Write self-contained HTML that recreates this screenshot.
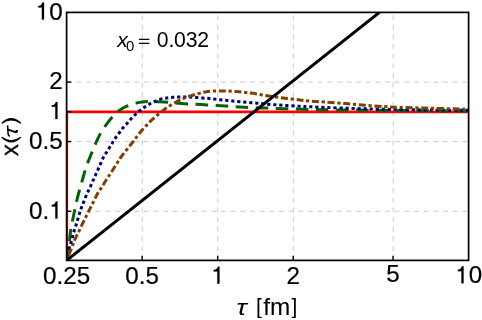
<!DOCTYPE html>
<html><head><meta charset="utf-8"><title>plot</title>
<style>
html,body{margin:0;padding:0;background:#fff;}
svg{display:block;will-change:transform;}
text{font-family:"Liberation Sans",sans-serif;fill:#000;}
.tk{font-size:23px;}
.gr{stroke:#cbcbcb;stroke-width:1;stroke-dasharray:5 4.65;fill:none;}
</style></head><body>
<svg width="482" height="320" viewBox="0 0 482 320">
<rect x="0" y="0" width="482" height="320" fill="#fff"/>
<defs><clipPath id="cp"><rect x="66.6" y="12.4" width="402.00" height="248.00"/></clipPath></defs>
<line class="gr" style="stroke-dasharray:5 4.61" x1="142.26" y1="260.4" x2="142.26" y2="12.4"/>
<line class="gr" style="stroke-dasharray:5 4.61" x1="217.79" y1="260.4" x2="217.79" y2="12.4"/>
<line class="gr" style="stroke-dasharray:5 4.61" x1="293.33" y1="260.4" x2="293.33" y2="12.4"/>
<line class="gr" style="stroke-dasharray:5 4.61" x1="393.18" y1="260.4" x2="393.18" y2="12.4"/>
<line class="gr" x1="66.6" y1="82.10" x2="468.6" y2="82.10"/>
<line class="gr" x1="66.6" y1="111.80" x2="468.6" y2="111.80"/>
<line class="gr" x1="66.6" y1="141.60" x2="468.6" y2="141.60"/>
<line class="gr" x1="66.6" y1="211.30" x2="468.6" y2="211.30"/>
<g clip-path="url(#cp)" fill="none">
<path d="M66.76,260.4 L66.76,111.88 L468.6,111.88" stroke="#f00" stroke-width="2.75" stroke-linejoin="miter"/>
<path d="M66.60,260.40C66.90,258.83 67.83,255.11 68.40,251.00C68.97,246.89 69.50,239.92 70.00,235.75C70.50,231.58 70.82,229.29 71.40,226.00C71.98,222.71 72.80,219.33 73.50,216.00C74.20,212.67 74.89,209.23 75.60,206.00C76.31,202.77 76.93,199.82 77.75,196.60C78.57,193.38 79.58,189.97 80.50,186.70C81.42,183.43 82.33,180.20 83.25,177.00C84.17,173.80 84.96,170.62 86.00,167.50C87.04,164.38 88.27,161.43 89.50,158.30C90.73,155.17 92.07,151.87 93.40,148.70C94.73,145.53 96.03,142.33 97.50,139.30C98.97,136.27 100.45,133.33 102.20,130.50C103.95,127.67 105.95,124.95 108.00,122.30C110.05,119.65 112.92,116.38 114.50,114.60C116.08,112.82 116.13,112.67 117.50,111.60C118.87,110.53 120.97,109.17 122.70,108.20C124.43,107.23 125.78,106.58 127.90,105.75C130.02,104.92 133.13,103.86 135.40,103.25C137.67,102.64 139.48,102.39 141.50,102.10C143.52,101.81 145.04,101.56 147.50,101.50C149.96,101.44 152.88,101.62 156.25,101.75C159.62,101.88 164.53,102.04 167.75,102.25C170.97,102.46 172.27,102.72 175.60,103.00C178.93,103.28 184.52,103.69 187.75,103.90C190.98,104.11 191.71,104.08 195.00,104.25C198.29,104.42 204.07,104.69 207.50,104.90C210.93,105.11 212.22,105.30 215.60,105.50C218.97,105.70 224.42,105.89 227.75,106.10C231.08,106.31 232.21,106.53 235.60,106.75C238.99,106.97 244.77,107.23 248.10,107.40C251.43,107.57 252.27,107.63 255.60,107.75C258.93,107.87 264.77,107.97 268.10,108.10C271.43,108.22 272.27,108.39 275.60,108.50C278.93,108.61 284.70,108.67 288.10,108.75C291.50,108.83 292.60,108.89 296.00,109.00C299.40,109.11 304.50,109.28 308.50,109.40C312.50,109.52 313.92,109.60 320.00,109.70C326.08,109.80 336.67,109.92 345.00,110.00C353.33,110.08 360.83,110.10 370.00,110.20C379.17,110.30 390.00,110.50 400.00,110.60C410.00,110.70 418.60,110.73 430.00,110.80C441.40,110.87 462.00,110.97 468.40,111.00" stroke="#006400" stroke-width="3" stroke-dasharray="12.45 7.633" stroke-dashoffset="0.78"/>
<path d="M66.60,260.40C67.00,258.48 68.28,251.87 69.00,248.90C69.72,245.93 70.32,244.62 70.90,242.60C71.48,240.57 71.94,238.72 72.50,236.75C73.06,234.78 73.65,232.72 74.25,230.75C74.85,228.78 75.52,226.79 76.10,224.90C76.68,223.01 77.17,221.37 77.75,219.40C78.33,217.43 78.97,215.08 79.60,213.10C80.22,211.12 80.81,209.37 81.50,207.50C82.19,205.63 82.97,203.90 83.75,201.90C84.53,199.90 85.42,197.36 86.20,195.50C86.98,193.64 87.68,192.27 88.40,190.75C89.12,189.23 89.73,188.07 90.50,186.40C91.27,184.73 92.21,182.53 93.00,180.75C93.79,178.97 94.46,177.53 95.25,175.75C96.04,173.97 96.88,172.07 97.75,170.10C98.62,168.12 99.54,166.07 100.50,163.90C101.46,161.73 102.54,158.96 103.50,157.10C104.46,155.24 105.27,154.31 106.25,152.75C107.23,151.19 108.36,149.42 109.40,147.75C110.44,146.08 111.47,144.42 112.50,142.75C113.53,141.08 114.45,139.42 115.60,137.75C116.75,136.08 118.15,134.42 119.40,132.75C120.65,131.08 121.79,129.33 123.10,127.75C124.41,126.17 125.93,124.72 127.25,123.25C128.57,121.78 129.64,120.36 131.00,118.90C132.36,117.44 133.94,115.86 135.40,114.50C136.86,113.14 138.19,112.00 139.75,110.75C141.31,109.50 143.08,108.14 144.75,107.00C146.42,105.86 148.08,104.82 149.75,103.90C151.42,102.98 152.83,102.33 154.75,101.50C156.67,100.67 159.22,99.48 161.25,98.90C163.28,98.32 164.93,98.28 166.90,98.00C168.88,97.72 170.92,97.42 173.10,97.25C175.28,97.08 177.70,97.04 180.00,97.00C182.30,96.96 184.61,96.96 186.90,97.00C189.19,97.04 191.15,97.08 193.75,97.25C196.35,97.42 199.79,97.78 202.50,98.00C205.21,98.22 207.50,98.35 210.00,98.60C212.50,98.85 215.00,99.22 217.50,99.50C220.00,99.78 222.50,100.00 225.00,100.25C227.50,100.50 230.00,100.75 232.50,101.00C235.00,101.25 237.50,101.52 240.00,101.75C242.50,101.98 245.04,102.19 247.50,102.40C249.96,102.61 252.25,102.78 254.75,103.00C257.25,103.22 259.12,103.46 262.50,103.75C265.88,104.04 270.83,104.44 275.00,104.75C279.17,105.06 283.33,105.35 287.50,105.60C291.67,105.85 296.29,106.06 300.00,106.25C303.71,106.44 305.58,106.56 309.75,106.75C313.92,106.94 319.12,107.16 325.00,107.40C330.88,107.64 338.33,107.97 345.00,108.20C351.67,108.43 358.33,108.62 365.00,108.80C371.67,108.98 379.17,109.17 385.00,109.30C390.83,109.43 392.50,109.48 400.00,109.60C407.50,109.72 418.60,109.88 430.00,110.00C441.40,110.12 462.00,110.25 468.40,110.30" stroke="#000080" stroke-width="3" stroke-dasharray="3.2 2.828" stroke-dashoffset="1.12"/>
<path d="M66.60,260.40C67.00,259.46 67.97,257.30 69.00,254.75C70.03,252.20 71.82,247.53 72.75,245.10C73.68,242.67 73.94,241.77 74.60,240.20C75.26,238.63 75.93,237.27 76.70,235.70C77.47,234.13 78.23,232.80 79.20,230.80C80.17,228.80 81.38,226.02 82.50,223.70C83.62,221.38 84.72,219.28 85.90,216.90C87.08,214.52 88.40,211.80 89.60,209.40C90.80,207.00 91.74,205.19 93.10,202.50C94.46,199.81 96.35,195.73 97.75,193.25C99.15,190.77 100.04,189.89 101.50,187.60C102.96,185.31 104.83,182.10 106.50,179.50C108.17,176.90 109.70,174.80 111.50,172.00C113.30,169.20 115.67,165.24 117.30,162.70C118.92,160.16 119.76,158.82 121.25,156.75C122.74,154.68 124.58,152.38 126.25,150.25C127.92,148.12 129.69,145.97 131.25,144.00C132.81,142.03 134.07,140.40 135.60,138.40C137.12,136.40 138.67,134.08 140.40,132.00C142.13,129.92 144.32,127.70 146.00,125.90C147.68,124.10 148.83,122.82 150.50,121.20C152.17,119.58 154.00,117.90 156.00,116.20C158.00,114.50 160.38,112.63 162.50,111.00C164.62,109.37 166.46,107.90 168.75,106.40C171.04,104.90 173.96,103.25 176.25,102.00C178.54,100.75 180.42,99.83 182.50,98.90C184.58,97.97 186.67,97.13 188.75,96.40C190.83,95.67 192.71,95.17 195.00,94.50C197.29,93.83 200.42,92.88 202.50,92.40C204.58,91.92 205.62,91.82 207.50,91.60C209.38,91.38 211.67,91.22 213.75,91.10C215.83,90.98 217.92,90.92 220.00,90.90C222.08,90.88 224.17,90.94 226.25,91.00C228.33,91.06 230.42,91.12 232.50,91.25C234.58,91.38 236.67,91.56 238.75,91.75C240.83,91.94 242.92,92.18 245.00,92.40C247.08,92.62 248.33,92.67 251.25,93.10C254.17,93.53 258.54,94.37 262.50,95.00C266.46,95.63 270.83,96.32 275.00,96.90C279.17,97.48 283.33,97.98 287.50,98.50C291.67,99.02 296.29,99.58 300.00,100.00C303.71,100.42 305.58,100.65 309.75,101.00C313.92,101.35 319.12,101.67 325.00,102.10C330.88,102.53 338.33,103.07 345.00,103.60C351.67,104.12 358.33,104.75 365.00,105.25C371.67,105.75 379.17,106.24 385.00,106.60C390.83,106.96 392.17,107.12 400.00,107.40C407.83,107.68 420.60,107.93 432.00,108.25C443.40,108.57 462.33,109.12 468.40,109.30" stroke="#804000" stroke-width="3" stroke-dasharray="7 2.7 3.243 2.7" stroke-dashoffset="10.06"/>
<path d="M66.6,260.4 L379.45,12.4" stroke="#000" stroke-width="3.05"/>
</g>
<rect x="66.6" y="12.4" width="402.00" height="248.00" fill="none" stroke="#000" stroke-width="1.7"/>
<line x1="142.14" y1="260.4" x2="142.14" y2="255.7" stroke="#000" stroke-width="1.4"/>
<line x1="217.67" y1="260.4" x2="217.67" y2="255.7" stroke="#000" stroke-width="1.4"/>
<line x1="293.21" y1="260.4" x2="293.21" y2="255.7" stroke="#000" stroke-width="1.4"/>
<line x1="393.06" y1="260.4" x2="393.06" y2="255.7" stroke="#000" stroke-width="1.4"/>
<line x1="66.6" y1="82.10" x2="71.3" y2="82.10" stroke="#000" stroke-width="1.4"/>
<line x1="66.6" y1="111.80" x2="71.3" y2="111.80" stroke="#000" stroke-width="1.4"/>
<line x1="66.6" y1="141.60" x2="71.3" y2="141.60" stroke="#000" stroke-width="1.4"/>
<line x1="66.6" y1="211.30" x2="71.3" y2="211.30" stroke="#000" stroke-width="1.4"/>
<text x="43.05" y="283.55" font-size="24.2" stroke="#000" stroke-width="0.22">0.25</text>
<text x="125.32" y="283.65" font-size="24.2" stroke="#000" stroke-width="0.22">0.5</text>
<path transform="translate(211.25,283.65) scale(0.01182,-0.01182)" d="M515 0V1030H210V1155Q400 1170 480 1275Q540 1360 555 1440H696V0Z" fill="#000" stroke="#000" stroke-width="18.6"/>
<text x="286.48" y="284.20" font-size="24.2" stroke="#000" stroke-width="0.22">2</text>
<text x="386.24" y="282.35" font-size="24.2" stroke="#000" stroke-width="0.22">5</text>
<path transform="translate(455.34,283.30) scale(0.01182,-0.01182)" d="M515 0V1030H210V1155Q400 1170 480 1275Q540 1360 555 1440H696V0Z" fill="#000" stroke="#000" stroke-width="18.6"/>
<text x="468.80" y="283.30" font-size="24.2" stroke="#000" stroke-width="0.22">0</text>
<path transform="translate(35.79,19.60) scale(0.01182,-0.01182)" d="M515 0V1030H210V1155Q400 1170 480 1275Q540 1360 555 1440H696V0Z" fill="#000" stroke="#000" stroke-width="18.6"/>
<text x="49.24" y="19.60" font-size="24.2" stroke="#000" stroke-width="0.22">0</text>
<text x="49.24" y="89.10" font-size="24.2" stroke="#000" stroke-width="0.22">2</text>
<path transform="translate(49.24,119.00) scale(0.01182,-0.01182)" d="M515 0V1030H210V1155Q400 1170 480 1275Q540 1360 555 1440H696V0Z" fill="#000" stroke="#000" stroke-width="18.6"/>
<text x="29.06" y="148.60" font-size="24.2" stroke="#000" stroke-width="0.22">0.5</text>
<text x="29.06" y="218.60" font-size="24.2" stroke="#000" stroke-width="0.22">0.</text>
<path transform="translate(49.24,218.60) scale(0.01182,-0.01182)" d="M515 0V1030H210V1155Q400 1170 480 1275Q540 1360 555 1440H696V0Z" fill="#000" stroke="#000" stroke-width="18.6"/>
<text x="117.2" y="47.1" font-size="21" font-style="italic">x</text>
<text transform="translate(126.0,50.7) scale(0.96,1)" font-size="15.5">0</text>
<path d="M138.9,39.3 H149.3 M138.9,43.4 H149.3" stroke="#000" stroke-width="1.25" fill="none"/>
<text x="156.8" y="46.95" font-size="21.2" letter-spacing="-0.2">0.032</text>
<text transform="translate(236.6,314.6) scale(1.2,1)" font-size="23" font-style="italic">τ</text>
<path d="M257.5,298 H261.6 V299.45 H259.3 V316.65 H261.6 V318.1 H257.5 Z" fill="#000"/>
<text transform="translate(263.3,314.6) scale(1.045,1)" font-size="23.3" stroke="#000" stroke-width="0.08">fm</text>
<path d="M295.8,298 H291.7 V299.45 H294 V316.65 H291.7 V318.1 H295.8 Z" fill="#000"/>
<text transform="translate(17.9,156.0) rotate(-90)" font-size="17.6" stroke="#000" stroke-width="0.6">X</text>
<path d="M1.2,137.6 Q11.3,147.5 21.4,137.6 L20.4,136.8 Q11.3,143.5 2.2,136.8 Z" fill="#000"/>
<path d="M1.2,123.0 Q11.3,113.1 21.4,123.0 L20.4,123.8 Q11.3,117.1 2.2,123.8 Z" fill="#000"/>
<path d="M7.6,125.4 L8.1,134.2 Q8.3,135.6 9.8,136.4" fill="none" stroke="#000" stroke-width="1.5"/>
<path d="M8.2,129.6 L14.6,131.9 Q16.4,132.5 17.0,130.9" fill="none" stroke="#000" stroke-width="1.7" stroke-linecap="round"/>
<circle cx="16.5" cy="131.4" r="1.3" fill="#000"/>
</svg></body></html>
